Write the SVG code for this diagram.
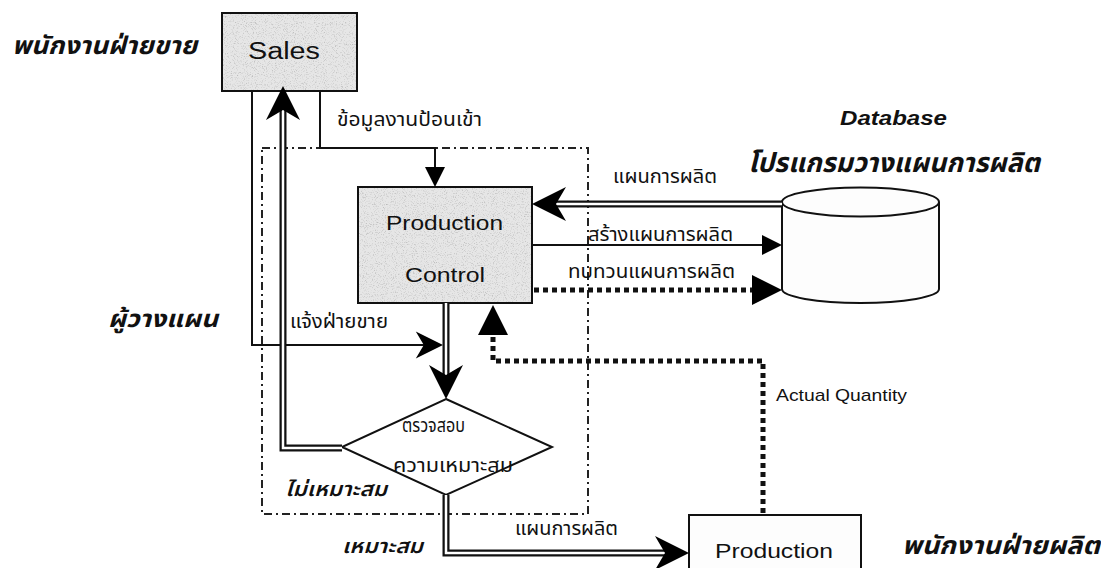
<svg xmlns="http://www.w3.org/2000/svg" width="1101" height="568" viewBox="0 0 1101 568">
  <style>
    .box { stroke: #111; stroke-width: 2; }
    .shaded { fill: #e6e6e6; }
    .plain { fill: #fdfdfd; }
    .thin { fill: none; stroke: #111; stroke-width: 2; }
    .dbl-out { fill: none; stroke: #111; stroke-width: 7; stroke-linejoin: miter; }
    .dbl-in { fill: none; stroke: #fff; stroke-width: 2.5; stroke-linejoin: miter; }
    .dots { fill: none; stroke: #111; stroke-width: 5; stroke-dasharray: 5 4; }
    .dashdot { fill: none; stroke: #222; stroke-width: 2; stroke-dasharray: 8 4 2 4; }
    .en { font-family: "Liberation Sans", Arial, sans-serif; fill: #111; }
    .th { font-family: "Noto Sans Thai", "Noto Sans Thai UI", "Loma", "Garuda", "Noto Sans", sans-serif; fill: #111; }
    .role { font-weight: bold; font-style: italic; }
  </style>
  <defs>
    <!-- barbed arrowhead, tip at origin, pointing +x -->
    <path id="barb" d="M0,0 L-34,-17 L-24,0 L-34,17 Z"/>
    <!-- plain triangle heads, tip at origin, pointing +x -->
    <path id="tri" d="M0,0 L-20,-10 L-20,10 Z"/>
    <path id="triBig" d="M0,0 L-30,-15 L-30,15 Z"/>
    <!-- stippled shading for the grey boxes -->
    <filter id="grain" x="0" y="0" width="100%" height="100%">
      <feTurbulence type="fractalNoise" baseFrequency="0.9" numOctaves="2" seed="7" result="n"/>
      <feColorMatrix in="n" type="matrix" values="0 0 0 0 0.45  0 0 0 0 0.45  0 0 0 0 0.45  2.4 0 0 0 -1.25"/>
      <feComposite in2="SourceGraphic" operator="in"/>
    </filter>
  </defs>

  <rect width="1101" height="568" fill="#fff"/>

  <!-- planner scope boundary -->
  <rect class="dashdot" x="262" y="148" width="326" height="366"/>

  <!-- nodes -->
  <g id="sales">
    <rect class="box shaded" x="222" y="13" width="135" height="78"/>
    <rect x="223" y="14" width="133" height="76" fill="#000" filter="url(#grain)"/>
    <rect class="box" fill="none" x="222" y="13" width="135" height="78"/>
    <text class="en" x="248" y="59" font-size="23" textLength="72" lengthAdjust="spacingAndGlyphs">Sales</text>
  </g>

  <g id="production-control">
    <rect class="box shaded" x="358" y="187" width="174" height="116"/>
    <rect x="359" y="188" width="172" height="114" fill="#000" filter="url(#grain)"/>
    <rect class="box" fill="none" x="358" y="187" width="174" height="116"/>
    <text class="en" x="386" y="230" font-size="21" textLength="117" lengthAdjust="spacingAndGlyphs">Production</text>
    <text class="en" x="405" y="282" font-size="21" textLength="80" lengthAdjust="spacingAndGlyphs">Control</text>
  </g>

  <g id="database">
    <path class="box plain" d="M782,202 L782,289 A78.5,14 0 0 0 939,289 L939,202"/>
    <ellipse class="box plain" cx="860.5" cy="202" rx="78.5" ry="14.5"/>
  </g>

  <g id="check">
    <polygon class="box" fill="#fff" points="446,399 552,447 446,495 342,447"/>
    <text class="th" x="402" y="432" font-size="20" textLength="63" lengthAdjust="spacingAndGlyphs">ตรวจสอบ</text>
    <text class="th" x="393" y="472" font-size="20" textLength="120" lengthAdjust="spacingAndGlyphs">ความเหมาะสม</text>
  </g>

  <g id="production">
    <rect class="box plain" x="689" y="515" width="172" height="60"/>
    <text class="en" x="715" y="558" font-size="21" textLength="118" lengthAdjust="spacingAndGlyphs">Production</text>
  </g>

  <!-- connectors -->
  <g id="connectors">
    <!-- job data in: Sales to Production Control -->
    <polyline class="thin" points="320,91 320,148 435,148 435,170"/>
    <use href="#tri" transform="translate(435,187) rotate(90)"/>

    <!-- notify sales: Sales line into the check flow -->
    <polyline class="thin" points="252,91 252,345 430,345"/>
    <use href="#barb" transform="translate(443,345) scale(0.8)"/>

    <!-- not suitable: back up to Sales -->
    <polyline class="dbl-out" points="342,448 283,448 283,110"/>
    <polyline class="dbl-in" points="342,448 283,448 283,110"/>
    <use href="#barb" transform="translate(283,86) rotate(-90)"/>

    <!-- Production Control to check -->
    <line class="dbl-out" x1="446" y1="303" x2="446" y2="378"/>
    <line class="dbl-in" x1="446" y1="303" x2="446" y2="378"/>
    <use href="#barb" transform="translate(446,399) rotate(90)"/>

    <!-- suitable: plan to Production -->
    <polyline class="dbl-out" points="446,495 446,553 665,553"/>
    <polyline class="dbl-in" points="446,495 446,553 665,553"/>
    <use href="#barb" transform="translate(689,553)"/>

    <!-- plan from database -->
    <line class="dbl-out" x1="782" y1="204" x2="555" y2="204"/>
    <line class="dbl-in" x1="782" y1="204" x2="555" y2="204"/>
    <use href="#barb" transform="translate(532,204) rotate(180)"/>

    <!-- create plan -->
    <line class="thin" x1="532" y1="245" x2="764" y2="245"/>
    <use href="#tri" transform="translate(782,245)"/>

    <!-- review plan -->
    <line class="dots" x1="534" y1="290" x2="754" y2="290"/>
    <use href="#triBig" transform="translate(782,290)"/>

    <!-- actual quantity feedback -->
    <polyline class="dots" points="763,513 763,361 493,361 493,334"/>
    <use href="#triBig" transform="translate(493,305) rotate(-90)"/>
  </g>

  <!-- connector labels -->
  <g id="labels">
    <text class="th" x="337" y="126" font-size="19" textLength="145" lengthAdjust="spacingAndGlyphs">ข้อมูลงานป้อนเข้า</text>
    <text class="th" x="290" y="328" font-size="19" textLength="98" lengthAdjust="spacingAndGlyphs">แจ้งฝ่ายขาย</text>
    <text class="th" x="613" y="183" font-size="19" textLength="104" lengthAdjust="spacingAndGlyphs">แผนการผลิต</text>
    <text class="th" x="588" y="241" font-size="19" textLength="145" lengthAdjust="spacingAndGlyphs">สร้างแผนการผลิต</text>
    <text class="th" x="568" y="278" font-size="19" textLength="167" lengthAdjust="spacingAndGlyphs">ทบทวนแผนการผลิต</text>
    <text class="en" x="776" y="401" font-size="17" textLength="131" lengthAdjust="spacingAndGlyphs">Actual Quantity</text>
    <text class="th" x="515" y="535" font-size="19" textLength="103" lengthAdjust="spacingAndGlyphs">แผนการผลิต</text>
    <text class="th" x="285" y="496" font-size="20" font-style="italic" font-weight="600" textLength="102" lengthAdjust="spacingAndGlyphs">ไม่เหมาะสม</text>
    <text class="th" x="342" y="553" font-size="20" font-style="italic" font-weight="600" textLength="81" lengthAdjust="spacingAndGlyphs">เหมาะสม</text>
  </g>

  <!-- role titles -->
  <g id="roles">
    <text class="th role" x="12" y="54" font-size="25" textLength="185" lengthAdjust="spacingAndGlyphs">พนักงานฝ่ายขาย</text>
    <text class="th role" x="108" y="327" font-size="24" textLength="110" lengthAdjust="spacingAndGlyphs">ผู้วางแผน</text>
    <text class="en role" x="840" y="125" font-size="20" textLength="107" lengthAdjust="spacingAndGlyphs">Database</text>
    <text class="th role" x="748" y="172" font-size="27" textLength="292" lengthAdjust="spacingAndGlyphs">โปรแกรมวางแผนการผลิต</text>
    <text class="th role" x="902" y="554" font-size="25" textLength="198" lengthAdjust="spacingAndGlyphs">พนักงานฝ่ายผลิต</text>
  </g>
</svg>
